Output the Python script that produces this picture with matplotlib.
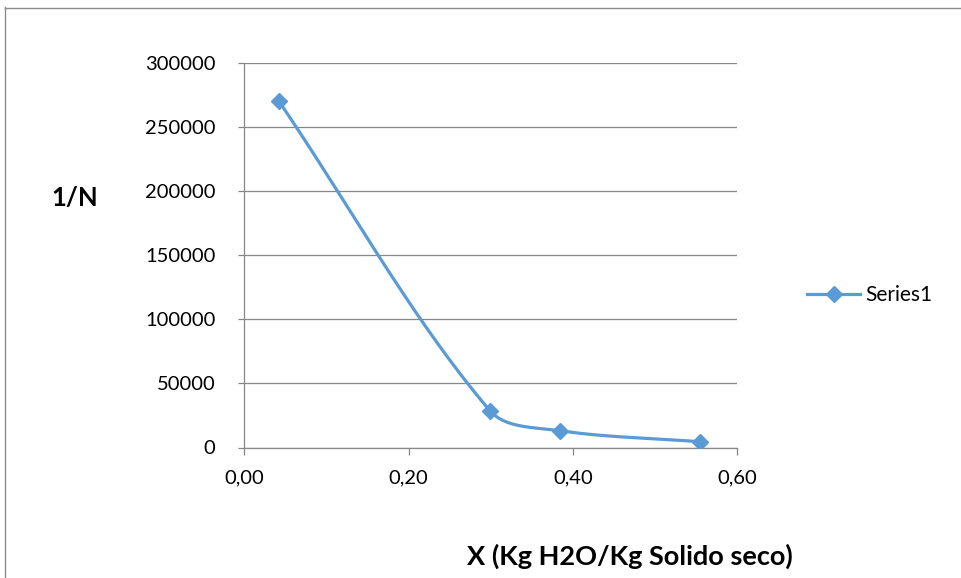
import numpy as np
import matplotlib
matplotlib.use('Agg')
import matplotlib.pyplot as plt
from matplotlib.lines import Line2D

plt.rcParams['font.family'] = ['Lato', 'DejaVu Sans']

# data
x_vals = [0.042, 0.299, 0.384, 0.554]
y_vals = [270600, 28700, 13100, 4500]
series_name = 'Series1'
x_ticks = [0.0, 0.2, 0.4, 0.6]
x_tick_labels = ['0,00', '0,20', '0,40', '0,60']
y_ticks = [0, 50000, 100000, 150000, 200000, 250000, 300000]

BLUE = '#5B9BD5'
GRID = '#878787'

fig = plt.figure(figsize=(9.62, 5.78), dpi=100)
ax = fig.add_axes([244 / 962, 1 - 447.5 / 578, 493.5 / 962, 384.5 / 578])
ax.set_xlim(0, 0.6)
ax.set_ylim(0, 300000)


def smooth(xs, ys, n=60):
    # Excel-like smoothing: cubic Bezier, tangents scaled by segment length
    # (done in display space so the curve doesn't overshoot)
    p = ax.transData.transform(np.column_stack([xs, ys]))
    seg = np.linalg.norm(np.diff(p, axis=0), axis=1)
    out = []
    for i in range(len(p) - 1):
        if i > 0:
            t0 = p[i + 1] - p[i - 1]
            c1 = p[i] + t0 * seg[i] / (seg[i - 1] + seg[i]) / 3
        else:
            c1 = p[i] + (p[i + 1] - p[i]) / 3
        if i + 2 < len(p):
            t1 = p[i + 2] - p[i]
            c2 = p[i + 1] - t1 * seg[i] / (seg[i] + seg[i + 1]) / 3
        else:
            c2 = p[i + 1] - (p[i + 1] - p[i]) / 3
        t = np.linspace(0, 1, n)[:, None]
        b = ((1 - t) ** 3 * p[i] + 3 * (1 - t) ** 2 * t * c1
             + 3 * (1 - t) * t ** 2 * c2 + t ** 3 * p[i + 1])
        out.append(b if i == 0 else b[1:])
    out = ax.transData.inverted().transform(np.vstack(out))
    return out[:, 0], out[:, 1]


sx, sy = smooth(x_vals, y_vals)
ax.plot(sx, sy, color=BLUE, lw=2.3, solid_capstyle='round', zorder=3)
ax.plot(x_vals, y_vals, ls='none', marker='D', ms=8, color=BLUE, zorder=4)

ax.set_xticks(x_ticks)
ax.set_xticklabels(x_tick_labels)
ax.set_yticks(y_ticks)
ax.set_yticklabels([str(v) for v in y_ticks])
ax.grid(axis='y', color=GRID, lw=0.9)
ax.set_axisbelow(True)
for s in ['top', 'right']:
    ax.spines[s].set_visible(False)
for s in ['left', 'bottom']:
    ax.spines[s].set_color(GRID)
    ax.spines[s].set_linewidth(0.9)
ax.tick_params(axis='x', direction='out', length=5, width=0.9, color=GRID,
               labelsize=14.5, pad=11)
ax.tick_params(axis='y', direction='out', length=4.5, width=0.9, color=GRID,
               labelsize=14.5, pad=16)

fig.text(75 / 962, 1 - 198 / 578, '1/N', fontsize=18.5, fontweight='bold',
         ha='center', va='center')
fig.text(630 / 962, 1 - 556 / 578, 'X (Kg H2O/Kg Solido seco)', fontsize=19.5,
         fontweight='bold', ha='center', va='center')

handle = Line2D([], [], color=BLUE, lw=2.3, marker='D', ms=8)
fig.legend([handle], [series_name], loc='center left',
           bbox_to_anchor=(807 / 962, 1 - 295 / 578), frameon=False,
           borderpad=0, borderaxespad=0, fontsize=15,
           handlelength=2.55, handletextpad=0.25)

# outer chart border
fig.add_artist(Line2D([4.5 / 962, 4.5 / 962], [0, 1 - 7 / 578],
                      transform=fig.transFigure, color='#8a8a8a', lw=1))
fig.add_artist(Line2D([4.5 / 962, 1], [1 - 7.5 / 578, 1 - 7.5 / 578],
                      transform=fig.transFigure, color='#8a8a8a', lw=1))

fig.savefig('out.png', dpi=100)
